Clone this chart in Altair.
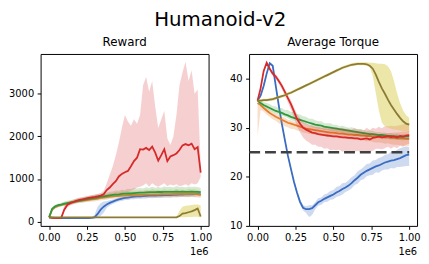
import altair as alt
import pandas as pd

FONT = "DejaVu Sans"
T = [round(i * 0.02, 2) for i in range(51)]
ORDER = ["blue", "orange", "green", "red", "olive"]
LINE_COLORS = {"blue": "#3a6cc2", "orange": "#e57e2c", "green": "#2f9a3c", "red": "#d62a2a", "olive": "#8c7b35"}
BAND_COLORS = {"blue": "#3a6cc2", "orange": "#e57e2c", "green": "#5aa84a", "red": "#d62a2a", "olive": "#d8c840"}
BAND_OPACITY = {"blue": 0.25, "orange": 0.25, "green": 0.25, "red": 0.22, "olive": 0.45}

# ---------------- Reward ----------------
rew_blue = [100, 95, 90, 85, 82, 80, 80, 80, 80, 80, 82, 82, 83, 85, 88, 100, 180, 280, 350, 400,
            440, 470, 500, 520, 540, 555, 565, 575, 585, 590, 595, 600, 605, 608, 610, 612, 615, 618, 620, 622,
            625, 628, 630, 632, 635, 638, 640, 642, 645, 648, 640]
rew_blue_up = [5, 5, 5, 5, 5, 5, 5, 5, 5, 5, 5, 5, 5, 5, 10, 60, 170, 150, 120, 80, 60, 50, 45, 40, 45, 40, 40, 45, 40, 45,
               40, 45, 40, 45, 40, 45, 40, 45, 40, 45, 40, 45, 40, 45, 40, 45, 40, 45, 40, 40, 40]
rew_blue_dn = [5, 10, 10, 10, 10, 10, 10, 10, 10, 10, 10, 10, 10, 10, 10, 10, 90, 150, 140, 80, 60, 55, 50, 50, 55, 50, 55, 50, 60, 55,
               60, 55, 60, 55, 60, 55, 60, 55, 60, 55, 60, 55, 60, 55, 60, 55, 60, 55, 60, 55, 50]

rew_orange = [100, 280, 340, 370, 390, 410, 425, 440, 455, 470, 480, 490, 500, 510, 520, 530, 540, 555, 565, 575,
              585, 595, 600, 605, 610, 615, 620, 625, 628, 630, 632, 635, 637, 638, 640, 640, 642, 643, 645, 645,
              646, 648, 648, 650, 650, 648, 650, 652, 650, 640, 630]
rew_orange_up = [5, 30, 30, 35, 40, 40, 45, 50, 45, 55, 50, 55, 60, 55, 65, 60, 70, 65, 75, 70, 80, 75, 90, 80, 95, 85, 100, 90, 105, 95,
                 100, 90, 110, 95, 120, 100, 105, 95, 115, 100, 110, 95, 120, 100, 105, 95, 115, 100, 110, 100, 90]
rew_orange_dn = [5, 40, 35, 35, 35, 40, 40, 45, 40, 45, 45, 50, 45, 50, 50, 55, 50, 55, 55, 60, 55, 60, 60, 65, 60, 65, 60, 65, 70, 65,
                 70, 65, 70, 75, 70, 75, 70, 75, 70, 75, 80, 70, 75, 80, 70, 75, 80, 75, 80, 75, 70]

rew_green = [100, 300, 360, 385, 400, 420, 435, 450, 465, 480, 495, 505, 520, 535, 545, 560, 570, 585, 595, 605,
             615, 625, 635, 640, 650, 655, 660, 665, 670, 675, 680, 680, 685, 690, 690, 690, 695, 695, 700, 700,
             700, 700, 705, 700, 705, 700, 700, 705, 700, 700, 690]
rew_green_up = [5, 30, 35, 40, 45, 50, 55, 50, 60, 55, 65, 60, 70, 60, 75, 70, 80, 70, 90, 75, 85, 80, 95, 85, 100, 90, 110, 95, 120, 100,
                110, 95, 120, 100, 130, 105, 115, 100, 125, 110, 120, 100, 130, 110, 115, 100, 125, 105, 120, 110, 100]
rew_green_dn = [5, 40, 40, 35, 40, 45, 40, 50, 45, 50, 45, 55, 50, 55, 50, 60, 55, 60, 55, 65, 60, 65, 60, 70, 60, 70, 65, 70, 65, 75,
                65, 70, 80, 70, 75, 70, 80, 70, 75, 80, 70, 75, 80, 70, 75, 80, 70, 75, 80, 70, 60]

rew_red = [100, 90, 85, 85, 90, 280, 390, 430, 460, 490, 510, 525, 540, 555, 570, 580, 595, 610, 640, 740,
           800, 880, 950, 1060, 1120, 1160, 1190, 1300, 1420, 1500, 1700, 1690, 1730, 1680, 1760, 1620, 1430, 1560, 1700, 1420,
           1530, 1560, 1600, 1680, 1790, 1820, 1790, 1830, 1700, 1750, 1150]
rew_red_hi = [110, 100, 95, 95, 110, 380, 440, 480, 510, 540, 560, 575, 590, 605, 620, 635, 650, 670, 720, 900,
              1100, 1300, 1550, 1850, 2200, 2500, 2350, 2250, 2400, 2300, 2500, 3200, 3400, 3050, 3300, 2700, 2200, 2400, 2600, 1950,
              1800, 2000, 2500, 3200, 3500, 3750, 3300, 3550, 3000, 3100, 1300]
rew_red_lo = [90, 80, 75, 75, 80, 250, 340, 380, 410, 440, 460, 475, 490, 505, 520, 530, 545, 560, 575, 600,
              620, 640, 650, 660, 670, 680, 700, 720, 760, 800, 820, 850, 900, 820, 900, 850, 820, 860, 900, 830,
              870, 850, 880, 830, 850, 880, 840, 900, 870, 900, 1050]

rew_olive = [100] * 43 + [130, 190, 200, 220, 240, 270, 310, 120]
rew_olive_hi = [105] * 42 + [110, 250, 350, 370, 380, 390, 400, 400, 380]
rew_olive_lo = [95] * 43 + [100, 105, 105, 110, 110, 115, 115, 100]

# ---------------- Average Torque ----------------
tq_blue = [35.5, 36.5, 38.5, 41.0, 43.1, 42.6, 38.5, 34.5, 30.8, 27.5, 24.3, 21.6, 19.0, 16.8, 14.9, 13.7, 13.4, 13.4, 13.6, 14.2,
           14.8, 15.1, 15.5, 15.8, 16.1, 16.4, 16.8, 17.1, 17.5, 17.8, 18.2, 18.7, 19.3, 19.8, 20.4, 20.8, 21.2, 21.5, 21.8, 22.1,
           22.3, 22.6, 22.9, 23.1, 23.3, 23.4, 23.6, 23.8, 24.1, 24.4, 24.5]
tq_blue_up = [0.2, 0.3, 0.4, 0.4, 0.3, 0.3, 0.4, 0.4, 0.4, 0.4, 0.4, 0.4, 0.4, 0.4, 0.5, 0.5, 0.6, 0.8, 0.6, 0.6,
              0.8, 0.7, 0.9, 0.8, 1.0, 0.9, 1.1, 1.0, 1.2, 1.0, 1.1, 1.2, 1.0, 1.3, 1.1, 1.2, 1.4, 1.2, 1.5, 1.3,
              1.5, 1.4, 1.6, 1.5, 1.8, 1.6, 1.9, 2.0, 1.9, 1.8, 1.5]
tq_blue_dn = [0.2, 0.3, 0.4, 0.4, 0.3, 0.3, 0.4, 0.4, 0.4, 0.4, 0.4, 0.4, 0.4, 0.5, 0.5, 0.5, 0.8, 1.6, 1.4, 0.8,
              0.7, 0.8, 0.7, 0.9, 0.8, 1.0, 0.9, 1.0, 1.1, 0.9, 1.0, 1.1, 1.0, 1.2, 1.1, 1.3, 1.1, 1.2, 1.4, 1.2,
              1.5, 1.3, 1.4, 1.6, 1.5, 1.7, 1.6, 1.8, 2.0, 2.2, 2.3]

tq_orange = [35.0, 34.6, 34.0, 33.5, 33.0, 32.6, 32.2, 31.9, 31.6, 31.3, 31.0, 30.8, 30.6, 30.4, 30.2, 30.0, 29.8, 29.7, 29.6, 29.5,
             29.4, 29.3, 29.2, 29.1, 29.0, 29.0, 28.9, 28.8, 28.8, 28.7, 28.6, 28.6, 28.5, 28.5, 28.4, 28.4, 28.3, 28.3, 28.2, 28.2,
             28.1, 28.1, 28.0, 28.0, 27.9, 27.9, 27.8, 27.8, 27.8, 27.7, 27.7]
tq_orange_up = [0.6, 0.5, 0.5, 0.6, 0.6, 0.7, 0.6, 0.7, 0.6, 0.7, 0.6, 0.7, 0.6, 0.7, 0.6, 0.7, 0.6, 0.7, 0.6, 0.7,
                0.6, 0.7, 0.6, 0.7, 0.6, 0.7, 0.6, 0.7, 0.6, 0.7, 0.6, 0.7, 0.6, 0.7, 0.6, 0.7, 0.6, 0.7, 0.6, 0.7,
                0.6, 0.7, 0.8, 0.9, 1.0, 1.1, 1.2, 1.3, 1.4, 1.5, 1.6]
tq_orange_dn = [6.7, 1.0, 0.7, 0.8, 0.8, 0.9, 0.8, 1.0, 0.9, 1.0, 0.9, 1.0, 0.9, 1.0, 0.9, 1.0, 0.9, 1.0, 0.9, 1.0,
                0.9, 1.0, 0.9, 1.0, 0.9, 1.0, 0.9, 1.0, 0.9, 1.0, 0.9, 1.0, 0.9, 1.0, 0.9, 1.0, 1.1, 1.0, 1.1, 1.2,
                1.1, 1.2, 1.3, 1.2, 1.3, 1.4, 1.3, 1.4, 1.5, 1.4, 1.5]

tq_green = [35.5, 35.0, 34.6, 34.3, 34.0, 33.7, 33.4, 33.2, 33.0, 32.7, 32.5, 32.2, 32.0, 31.8, 31.6, 31.4, 31.2, 31.0, 30.8, 30.6,
            30.5, 30.4, 30.2, 30.1, 30.0, 29.9, 29.8, 29.7, 29.6, 29.5, 29.4, 29.3, 29.2, 29.1, 29.0, 28.9, 28.8, 28.7, 28.7, 28.6,
            28.5, 28.5, 28.4, 28.3, 28.3, 28.2, 28.2, 28.1, 28.1, 28.2, 28.2]
tq_green_up = [0.1, 0.5, 0.6, 0.7, 0.8, 0.7, 0.9, 0.8, 1.0, 0.9, 1.1, 1.0, 1.2, 1.0, 1.1, 0.9, 1.0, 0.8, 1.0, 0.9,
               0.8, 0.9, 0.7, 0.8, 0.9, 0.7, 0.8, 0.6, 0.8, 0.7, 0.6, 0.8, 0.7, 0.6, 0.7, 0.6, 0.5, 0.7, 0.6, 0.5,
               0.6, 0.5, 0.6, 0.5, 0.6, 0.5, 0.6, 0.5, 0.6, 0.5, 0.5]
tq_green_dn = [0.1, 0.4, 0.4, 0.5, 0.5, 0.5, 0.6, 0.5, 0.6, 0.5, 0.6, 0.6, 0.7, 0.6, 0.7, 0.6, 0.7, 0.6, 0.7, 0.6,
               0.7, 0.6, 0.7, 0.6, 0.7, 0.6, 0.7, 0.6, 0.7, 0.6, 0.7, 0.6, 0.7, 0.6, 0.7, 0.6, 0.7, 0.6, 0.7, 0.6,
               0.7, 0.6, 0.7, 0.6, 0.7, 0.6, 0.7, 0.6, 0.7, 0.6, 0.6]

tq_red = [35.5, 38.0, 41.5, 43.2, 42.0, 41.0, 40.4, 39.5, 38.5, 37.3, 36.0, 34.8, 33.3, 31.8, 30.8, 30.0, 29.6, 29.3, 29.0, 28.9,
          28.7, 28.6, 28.5, 28.4, 28.3, 28.2, 28.2, 28.1, 28.0, 28.0, 27.9, 27.9, 27.8, 27.8, 27.6, 27.7, 27.8, 27.6, 27.9, 28.0,
          28.2, 28.0, 28.1, 28.3, 28.1, 28.2, 28.0, 28.3, 28.2, 28.4, 28.5]
tq_red_up = [0.2, 0.3, 0.4, 0.3, 0.4, 0.5, 0.5, 0.5, 0.6, 0.6, 0.7, 0.8, 0.9, 1.0, 1.1, 1.2, 1.3, 1.2, 1.5, 1.3,
             1.6, 1.4, 1.7, 1.5, 1.8, 1.6, 1.9, 1.7, 2.0, 1.8, 1.9, 1.7, 2.1, 1.8, 2.0, 1.7, 2.2, 1.9, 2.1, 1.8,
             2.0, 1.9, 2.2, 2.0, 2.3, 2.1, 2.4, 2.2, 2.5, 2.4, 2.5]
tq_red_dn = [0.2, 0.3, 0.4, 0.3, 0.4, 0.5, 0.5, 0.6, 0.7, 0.8, 0.9, 1.1, 1.3, 1.6, 1.8, 2.0, 2.2, 2.3, 2.5, 2.4,
             2.6, 2.5, 2.8, 2.6, 2.9, 2.7, 2.8, 2.6, 2.9, 2.7, 2.8, 2.6, 2.7, 2.5, 2.6, 2.4, 2.7, 2.5, 2.6, 2.3,
             2.5, 2.4, 2.3, 2.2, 2.4, 2.1, 2.2, 2.0, 2.1, 1.9, 1.8]

tq_olive = [35.5, 35.5, 35.6, 35.6, 35.7, 35.8, 36.0, 36.2, 36.4, 36.6, 36.9, 37.1, 37.4, 37.7, 38.0, 38.3, 38.6, 38.9, 39.2, 39.5,
            39.8, 40.1, 40.4, 40.7, 41.0, 41.3, 41.6, 41.9, 42.2, 42.4, 42.6, 42.8, 42.9, 43.0, 43.0, 43.0, 42.9, 42.6, 42.0, 40.8,
            39.3, 38.0, 36.9, 35.7, 34.6, 33.7, 32.8, 32.0, 31.3, 30.8, 30.6]
tq_olive_hi = [35.7, 35.8, 35.9, 35.9, 36.0, 36.1, 36.3, 36.5, 36.7, 36.9, 37.2, 37.4, 37.7, 38.0, 38.3, 38.6, 38.9, 39.2, 39.5, 39.8,
               40.1, 40.4, 40.7, 41.0, 41.3, 41.6, 41.9, 42.2, 42.5, 42.7, 42.9, 43.1, 43.2, 43.3, 43.3, 43.3, 43.3, 43.2, 43.2, 43.1,
               43.0, 43.0, 42.9, 42.5, 41.5, 39.5, 37.0, 35.0, 33.5, 32.5, 32.0]
tq_olive_lo = [35.3, 35.2, 35.3, 35.3, 35.4, 35.5, 35.7, 35.9, 36.1, 36.3, 36.6, 36.8, 37.1, 37.4, 37.7, 38.0, 38.3, 38.6, 38.9, 39.2,
               39.5, 39.8, 40.1, 40.4, 40.7, 41.0, 41.3, 41.6, 41.9, 42.1, 42.3, 42.5, 42.6, 42.7, 42.7, 42.7, 42.6, 42.3, 40.5, 37.0,
               33.5, 31.0, 30.3, 30.0, 29.8, 29.6, 29.5, 29.4, 29.3, 29.3, 29.2]

TARGET_LEVEL = [25]
TARGET_X = [-0.055, 1.0]


def offsets(mean, up, dn):
    return [m - d for m, d in zip(mean, dn)], [m + u for m, u in zip(mean, up)]


def frame(mean, lo, hi):
    return pd.DataFrame({"t": T, "mean": mean, "lo": lo, "hi": hi})


rew_series = {}
for name, (m, up, dn) in {"blue": (rew_blue, rew_blue_up, rew_blue_dn),
                          "orange": (rew_orange, rew_orange_up, rew_orange_dn),
                          "green": (rew_green, rew_green_up, rew_green_dn)}.items():
    lo, hi = offsets(m, up, dn)
    rew_series[name] = frame(m, lo, hi)
rew_series["red"] = frame(rew_red, rew_red_lo, rew_red_hi)
rew_series["olive"] = frame(rew_olive, rew_olive_lo, rew_olive_hi)

tq_series = {}
for name, (m, up, dn) in {"blue": (tq_blue, tq_blue_up, tq_blue_dn),
                          "orange": (tq_orange, tq_orange_up, tq_orange_dn),
                          "green": (tq_green, tq_green_up, tq_green_dn),
                          "red": (tq_red, tq_red_up, tq_red_dn)}.items():
    lo, hi = offsets(m, up, dn)
    tq_series[name] = frame(m, lo, hi)
tq_series["olive"] = frame(tq_olive, tq_olive_lo, tq_olive_hi)

W, H = 170, 174
XDOM = [-0.056, 1.052]
xaxis = alt.Axis(values=[0, 0.25, 0.5, 0.75, 1.0], format=".2f", title=None)


def panel(series, ydom, yticks, title, ylabel_extent, extra=None):
    xs = alt.Scale(domain=XDOM, nice=False, zero=False)
    ys = alt.Scale(domain=ydom, nice=False, zero=False)
    yaxis = alt.Axis(values=yticks, title=None, format="d", minExtent=ylabel_extent, maxExtent=ylabel_extent)
    layers = []
    for s in ORDER:
        d = series[s]
        layers.append(alt.Chart(d).mark_area(color=BAND_COLORS[s], opacity=BAND_OPACITY[s], clip=True).encode(
            x=alt.X("t:Q", scale=xs, axis=xaxis), y=alt.Y("lo:Q", scale=ys, axis=yaxis), y2="hi:Q"))
        layers.append(alt.Chart(d).mark_line(color=LINE_COLORS[s], strokeWidth=1.8, clip=True).encode(
            x=alt.X("t:Q", scale=xs, axis=xaxis), y=alt.Y("mean:Q", scale=ys, axis=yaxis)))
    if extra is not None:
        layers.append(extra)
    note = alt.Chart(pd.DataFrame({"label": ["1e6"]})).mark_text(
        align="right", baseline="middle", fontSize=10, font=FONT, color="#000").encode(
        x=alt.value(W), y=alt.value(H + 26), text="label:N")
    layers.append(note)
    return alt.layer(*layers).properties(width=W, height=H, title=title)


rule = alt.Chart(pd.DataFrame({"x0": [TARGET_X[0]], "x1": [TARGET_X[1]], "y": TARGET_LEVEL})).mark_rule(
    color="#404040", strokeWidth=2.5, strokeDash=[11, 5]).encode(x="x0:Q", x2="x1:Q", y="y:Q")

left = panel(rew_series, [-100, 3935], [0, 1000, 2000, 3000], "Reward", 31)
right = panel(tq_series, [10, 45], [10, 15, 20, 25, 30, 35, 40, 45], "Average Torque", 20, extra=rule)

chart = alt.hconcat(left, right, spacing=41, bounds="flush").properties(
    title=alt.TitleParams("Humanoid-v2", fontSize=20, font=FONT, fontWeight="normal", color="#000",
                          anchor="middle", dx=6, offset=6),
    padding={"left": 0, "top": 0, "right": 0, "bottom": 0},
).configure_view(stroke="#000", strokeWidth=1).configure_axis(
    domain=False, grid=False, ticks=True, tickColor="#000", tickSize=3.5, tickWidth=1,
    labelFont=FONT, labelFontSize=10, labelColor="#000", labelPadding=3.5,
).configure_title(font=FONT, fontSize=12, fontWeight="normal", color="#000", offset=5)

chart.save("out.html", embed_options={"renderer": "svg", "actions": False})
